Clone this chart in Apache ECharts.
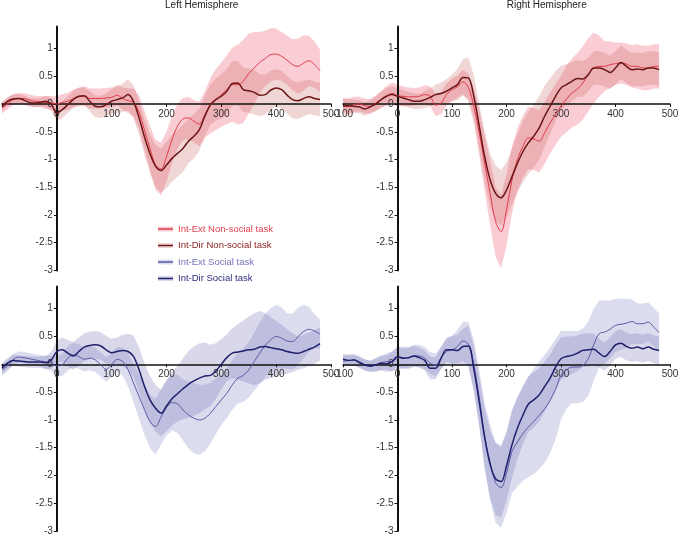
<!DOCTYPE html>
<html><head><meta charset="utf-8">
<script src="https://cdn.jsdelivr.net/npm/echarts@6/dist/echarts.min.js"></script>
<style>html,body{margin:0;padding:0;background:#fff}#c{width:680px;height:538px}</style>
</head><body><div id="c"></div>
<script>
const times = [-100,-90,-80,-70,-60,-50,-40,-30,-20,-10,0,10,20,30,40,50,60,70,80,90,100,110,120,130,140,150,160,170,180,190,200,210,220,230,240,250,260,270,280,290,300,310,320,330,340,350,360,370,380,390,400,410,420,430,440,450,460,470,480];

const panelTitles = ['Left Hemisphere', 'Right Hemisphere'];
const seriesNames = ['Int-Ext Non-social task', 'Int-Dir Non-social task', 'Int-Ext Social task', 'Int-Dir Social task'];
const xTickValues = [-100, 0, 100, 200, 300, 400, 500];
const xLabelsLeft = [0, 100, 200, 300, 400, 500];
const xLabelsRight = [-100, 0, 100, 200, 300, 400, 500];
const yTickValues = [-3, -2.5, -2, -1.5, -1, -0.5, 0, 0.5, 1];

// Left hemisphere, non-social task
const leftNonsocialExt = [
-0.07,0.0,0.08,0.1,0.1,0.07,0.05,0.04,0.03,0.02,
0.0,0.03,0.05,0.1,0.13,0.14,0.1,0.1,0.1,0.11,
0.12,0.16,0.1,0.06,0.03,-0.15,-0.48,-0.8,-1.1,-1.17,
-0.95,-0.64,-0.4,-0.27,-0.25,-0.31,-0.36,-0.19,-0.03,0.08,
0.17,0.26,0.35,0.35,0.41,0.55,0.65,0.75,0.82,0.89,
0.9,0.86,0.79,0.71,0.68,0.74,0.78,0.71,0.6];
const leftNonsocialExtSE = [
0.1,0.1,0.1,0.1,0.1,0.1,0.1,0.1,0.12,0.12,
0.14,0.15,0.15,0.16,0.17,0.18,0.18,0.18,0.18,0.18,
0.18,0.18,0.2,0.22,0.25,0.3,0.35,0.4,0.45,0.47,
0.45,0.43,0.4,0.38,0.38,0.38,0.4,0.42,0.5,0.55,
0.58,0.62,0.67,0.72,0.75,0.72,0.65,0.55,0.5,0.48,
0.46,0.44,0.44,0.46,0.5,0.5,0.45,0.42,0.38];
const leftNonsocialDir = [
-0.05,0.05,0.09,0.1,0.07,0.03,0.02,0.03,0.05,-0.01,
-0.16,-0.1,-0.01,0.08,0.14,0.15,0.05,-0.04,-0.05,-0.01,
0.05,0.08,0.11,0.17,0.04,-0.25,-0.6,-0.9,-1.12,-1.2,
-1.1,-0.98,-0.89,-0.8,-0.67,-0.58,-0.46,-0.22,-0.01,0.08,
0.14,0.23,0.37,0.38,0.26,0.24,0.21,0.16,0.17,0.25,
0.29,0.26,0.16,0.08,0.06,0.1,0.13,0.1,0.08];
const leftNonsocialDirSE = [
0.08,0.08,0.08,0.08,0.08,0.08,0.08,0.08,0.1,0.12,
0.15,0.15,0.15,0.15,0.15,0.15,0.18,0.2,0.2,0.2,
0.22,0.24,0.26,0.28,0.3,0.3,0.32,0.35,0.38,0.4,
0.42,0.42,0.42,0.42,0.4,0.4,0.38,0.36,0.36,0.38,
0.4,0.4,0.4,0.4,0.4,0.4,0.4,0.38,0.36,0.35,
0.34,0.34,0.34,0.34,0.33,0.32,0.31,0.3,0.3];

// Right hemisphere, non-social task
const rightNonsocialExt = [
-0.04,-0.05,-0.01,0.0,-0.03,-0.04,0.02,0.08,0.15,0.19,
0.15,0.14,0.13,0.13,0.14,0.17,0.14,-0.02,0.02,0.17,
0.26,0.31,0.4,0.3,-0.04,-0.52,-1.07,-1.61,-2.12,-2.3,
-1.91,-1.37,-1.0,-0.77,-0.61,-0.63,-0.67,-0.52,-0.34,-0.19,
-0.04,0.09,0.2,0.27,0.38,0.53,0.65,0.68,0.68,0.71,
0.73,0.74,0.72,0.68,0.68,0.65,0.65,0.68,0.68];
const rightNonsocialExtSE = [
0.15,0.15,0.14,0.13,0.13,0.13,0.14,0.15,0.18,0.2,
0.2,0.18,0.17,0.16,0.16,0.17,0.18,0.2,0.2,0.2,
0.2,0.2,0.22,0.25,0.3,0.4,0.5,0.58,0.63,0.66,
0.65,0.6,0.57,0.56,0.56,0.56,0.56,0.56,0.55,0.55,
0.55,0.6,0.62,0.65,0.66,0.66,0.64,0.55,0.45,0.42,
0.38,0.37,0.37,0.38,0.4,0.4,0.4,0.4,0.4];
const rightNonsocialDir = [
-0.03,-0.03,-0.04,-0.05,-0.09,-0.05,0.0,0.08,0.14,0.17,
0.14,0.11,0.08,0.05,0.05,0.08,0.12,0.17,0.19,0.23,
0.29,0.35,0.48,0.47,0.14,-0.4,-0.95,-1.37,-1.61,-1.69,
-1.55,-1.31,-1.07,-0.86,-0.7,-0.58,-0.43,-0.22,-0.04,0.14,
0.29,0.35,0.41,0.46,0.45,0.53,0.65,0.65,0.62,0.57,
0.65,0.75,0.68,0.62,0.63,0.62,0.65,0.65,0.62];
const rightNonsocialDirSE = [
0.12,0.12,0.12,0.12,0.12,0.12,0.13,0.14,0.15,0.15,
0.15,0.14,0.14,0.14,0.14,0.15,0.16,0.18,0.2,0.22,
0.24,0.28,0.33,0.37,0.38,0.4,0.45,0.48,0.5,0.5,
0.5,0.5,0.52,0.55,0.56,0.57,0.57,0.55,0.5,0.45,
0.4,0.37,0.35,0.33,0.32,0.3,0.3,0.3,0.3,0.3,
0.3,0.3,0.3,0.3,0.3,0.3,0.3,0.3,0.3];

// Left hemisphere, social task
const leftSocialExt = [
-0.1,-0.03,0.08,0.13,0.12,0.1,0.08,0.06,0.04,0.02,
-0.03,-0.01,0.11,0.17,0.14,0.09,0.11,0.08,-0.01,-0.09,
-0.01,0.09,0.05,-0.1,-0.34,-0.58,-0.82,-1.03,-1.12,-0.95,
-0.78,-0.69,-0.71,-0.82,-0.91,-0.97,-1.0,-0.97,-0.88,-0.76,
-0.64,-0.52,-0.37,-0.25,-0.2,-0.1,0.05,0.2,0.34,0.44,
0.5,0.47,0.42,0.41,0.5,0.59,0.63,0.6,0.54];
const leftSocialExtSE = [
0.1,0.1,0.1,0.1,0.1,0.1,0.1,0.1,0.12,0.14,
0.18,0.2,0.22,0.22,0.22,0.22,0.22,0.22,0.22,0.22,
0.22,0.22,0.25,0.3,0.35,0.4,0.45,0.48,0.5,0.5,
0.5,0.5,0.52,0.55,0.6,0.63,0.63,0.6,0.55,0.5,
0.45,0.45,0.45,0.45,0.48,0.5,0.52,0.55,0.57,0.57,
0.57,0.55,0.5,0.5,0.52,0.48,0.4,0.3,0.26];
const leftSocialDir = [
-0.07,0.02,0.07,0.06,0.05,0.04,0.04,0.04,0.03,0.08,
0.23,0.26,0.2,0.15,0.23,0.31,0.34,0.35,0.33,0.26,
0.21,0.23,0.25,0.23,0.14,-0.1,-0.4,-0.64,-0.79,-0.88,
-0.75,-0.62,-0.53,-0.44,-0.36,-0.3,-0.25,-0.21,-0.2,-0.12,
0.0,0.12,0.2,0.22,0.24,0.26,0.27,0.31,0.32,0.3,
0.28,0.26,0.23,0.21,0.2,0.23,0.27,0.31,0.37];
const leftSocialDirSE = [
0.1,0.1,0.1,0.1,0.1,0.1,0.1,0.1,0.12,0.15,
0.2,0.22,0.24,0.25,0.25,0.25,0.25,0.25,0.25,0.25,
0.25,0.25,0.28,0.32,0.38,0.4,0.42,0.42,0.42,0.42,
0.45,0.48,0.5,0.55,0.6,0.62,0.63,0.6,0.55,0.5,
0.45,0.42,0.45,0.5,0.55,0.6,0.65,0.65,0.6,0.55,
0.5,0.45,0.4,0.35,0.3,0.3,0.3,0.3,0.3];

// Right hemisphere, social task
const rightSocialExt = [
0.05,0.07,0.07,0.05,-0.01,-0.04,-0.01,0.03,0.05,0.05,
0.11,0.12,0.11,0.15,0.15,0.11,0.02,-0.01,0.12,0.23,
0.26,0.32,0.42,0.36,-0.01,-0.6,-1.3,-1.77,-2.13,-2.22,
-1.96,-1.57,-1.4,-1.25,-1.13,-1.03,-0.92,-0.8,-0.65,-0.45,
-0.2,-0.1,-0.05,-0.05,-0.02,0.1,0.35,0.55,0.58,0.63,
0.7,0.72,0.74,0.77,0.73,0.73,0.76,0.67,0.57];
const rightSocialExtSE = [
0.1,0.1,0.1,0.1,0.1,0.1,0.12,0.13,0.15,0.18,
0.2,0.2,0.2,0.2,0.2,0.2,0.2,0.2,0.2,0.22,
0.25,0.3,0.35,0.4,0.45,0.5,0.6,0.68,0.72,0.72,
0.72,0.75,0.8,0.85,0.9,0.95,0.97,0.97,0.95,0.9,
0.8,0.7,0.65,0.65,0.66,0.67,0.65,0.6,0.57,0.52,
0.48,0.46,0.44,0.4,0.37,0.36,0.35,0.35,0.34];
const rightSocialDir = [
0.09,0.07,0.08,0.03,-0.01,-0.03,-0.01,0.02,0.01,0.05,
0.14,0.11,0.12,0.15,0.12,0.07,-0.07,-0.07,0.11,0.26,
0.26,0.25,0.32,0.33,-0.08,-0.68,-1.32,-1.8,-2.06,-2.11,
-1.83,-1.45,-1.15,-0.92,-0.72,-0.64,-0.55,-0.4,-0.25,-0.05,
0.1,0.14,0.16,0.2,0.25,0.26,0.27,0.2,0.14,0.23,
0.35,0.38,0.32,0.29,0.31,0.28,0.31,0.27,0.25];
const rightSocialDirSE = [
0.1,0.1,0.1,0.1,0.1,0.1,0.12,0.13,0.15,0.17,
0.18,0.18,0.18,0.18,0.18,0.18,0.2,0.2,0.2,0.22,
0.25,0.28,0.32,0.36,0.4,0.45,0.52,0.6,0.65,0.65,
0.62,0.6,0.56,0.52,0.5,0.5,0.48,0.45,0.42,0.4,
0.38,0.36,0.34,0.32,0.3,0.3,0.28,0.26,0.25,0.25,
0.25,0.25,0.25,0.25,0.25,0.25,0.25,0.25,0.25];

const FONT = 'Liberation Sans, Arial, sans-serif';
const lineColors = ['#e23a4a', '#6a1616', '#5a5aa6', '#1f1f6c'];
const textColors = ['#e0404e', '#8a2222', '#7272b8', '#2a2a7c'];
const bandColors = ['rgba(240,110,130,0.35)', 'rgba(200,90,90,0.25)', 'rgba(110,110,190,0.24)', 'rgba(100,100,170,0.25)'];
const lineWidths = [1, 1.5, 1, 1.5];
const X_MIN = -100, X_MAX = 500, Y_MIN = -3, Y_MAX = 1.4;

const panels = [
  { grid: {left: 2, top: 26.4, width: 329, height: 244}, xLabels: xLabelsLeft,
    sets: [[leftNonsocialExt, leftNonsocialExtSE, 0], [leftNonsocialDir, leftNonsocialDirSE, 1]] },
  { grid: {left: 343, top: 26.4, width: 327, height: 244}, xLabels: xLabelsRight,
    sets: [[rightNonsocialExt, rightNonsocialExtSE, 0], [rightNonsocialDir, rightNonsocialDirSE, 1]] },
  { grid: {left: 2, top: 286.5, width: 329, height: 244.5}, xLabels: xLabelsLeft,
    sets: [[leftSocialExt, leftSocialExtSE, 2], [leftSocialDir, leftSocialDirSE, 3]] },
  { grid: {left: 343, top: 286.5, width: 327, height: 244.5}, xLabels: xLabelsRight,
    sets: [[rightSocialExt, rightSocialExtSE, 2], [rightSocialDir, rightSocialDirSE, 3]] }
];

function bandRenderer(color) {
  return function (params, api) {
    if (params.dataIndexInside !== 0) return null;
    const n = params.dataInsideLength;
    const up = [], lo = [];
    for (let j = 0; j < n; j++) {
      const x = api.value(0, j), m = api.value(1, j), s = api.value(2, j);
      up.push(api.coord([x, m + s]));
      lo.push(api.coord([x, m - s]));
    }
    return { type: 'polygon', shape: { points: up.concat(lo.reverse()) }, style: { fill: color }, silent: true };
  };
}

const grids = [], xAxes = [], yAxes = [], series = [];
panels.forEach((p, i) => {
  const g = p.grid;
  grids.push(Object.assign({ outerBoundsMode: 'none', containLabel: false }, g));
  // place the axes through the origin (x = 0, y = 0) by offsetting them inward
  const xOffset = -g.height * (0 - Y_MIN) / (Y_MAX - Y_MIN);
  const yOffset = -g.width * (0 - X_MIN) / (X_MAX - X_MIN);
  xAxes.push({
    type: 'value', gridIndex: i, min: X_MIN, max: X_MAX, z: 2, position: 'bottom', offset: xOffset,
    axisLine: { show: true, onZero: false, lineStyle: { color: '#111', width: 1.5 } },
    axisTick: { show: true, length: 3, customValues: xTickValues, lineStyle: { color: '#111', width: 1 } },
    axisLabel: { customValues: p.xLabels, fontSize: 10, margin: 5, color: '#333', fontFamily: FONT },
    splitLine: { show: false }
  });
  yAxes.push({
    type: 'value', gridIndex: i, min: Y_MIN, max: Y_MAX, z: 2, position: 'left', offset: yOffset,
    axisLine: { show: true, onZero: false, lineStyle: { color: '#111', width: 2 } },
    axisTick: { show: true, length: 3, customValues: yTickValues, lineStyle: { color: '#111', width: 1 } },
    axisLabel: { customValues: yTickValues, fontSize: 10, margin: 4, color: '#333', fontFamily: FONT },
    splitLine: { show: false }
  });
  p.sets.forEach(([mean, se, k]) => {
    series.push({
      type: 'custom', name: 'band ' + seriesNames[k], xAxisIndex: i, yAxisIndex: i, z: 1,
      itemStyle: { color: bandColors[k] }, silent: true,
      renderItem: bandRenderer(bandColors[k]),
      data: times.map((t, j) => [t, mean[j], se[j]])
    });
  });
  p.sets.forEach(([mean, se, k]) => {
    series.push({
      type: 'line', name: seriesNames[k], xAxisIndex: i, yAxisIndex: i, z: 3,
      data: times.map((t, j) => [t, mean[j]]),
      smooth: 0.35, showSymbol: false, symbol: 'none', silent: true,
      itemStyle: { color: lineColors[k] },
      lineStyle: { color: lineColors[k], width: lineWidths[k] }
    });
  });
});

const chart = echarts.init(document.getElementById('c'), null, { renderer: 'canvas' });
chart.setOption({
  animation: false,
  backgroundColor: '#fff',
  textStyle: { fontFamily: FONT },
  title: [
    { text: panelTitles[0], left: 201.7, top: 0, padding: 0, textAlign: 'center', textStyle: { fontSize: 10, fontWeight: 'normal', color: '#222', fontFamily: FONT } },
    { text: panelTitles[1], left: 546.7, top: 0, padding: 0, textAlign: 'center', textStyle: { fontSize: 10, fontWeight: 'normal', color: '#222', fontFamily: FONT } }
  ],
  legend: [
    { orient: 'vertical', left: 158, top: 223, padding: 0, itemWidth: 15, itemHeight: 5, itemGap: 4.5, icon: 'rect', selectedMode: false, z: 4,
      data: seriesNames.map(n => 'band ' + n), formatter: () => ' ',
      textStyle: { fontSize: 9.5, lineHeight: 12, fontFamily: FONT } },
    { orient: 'vertical', left: 158, top: 223, padding: 0, itemWidth: 15, itemHeight: 1.5, itemGap: 4.5, icon: 'rect', selectedMode: false, z: 5,
      data: seriesNames.map((n, k) => ({ name: n, textStyle: { color: textColors[k] } })),
      textStyle: { fontSize: 9.5, lineHeight: 12, fontFamily: FONT } }
  ],
  grid: grids,
  xAxis: xAxes,
  yAxis: yAxes,
  series: series
});
</script>
</body></html>
